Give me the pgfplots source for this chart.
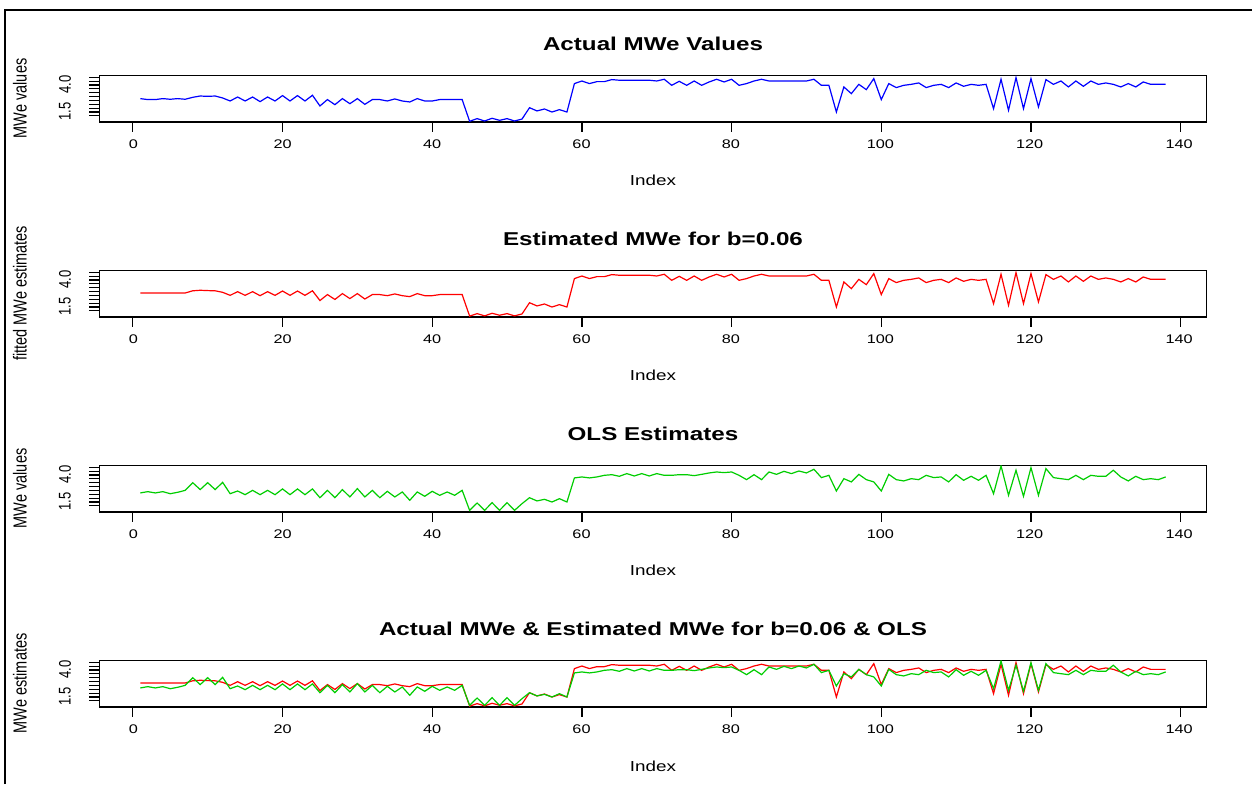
\documentclass[border=0pt]{standalone}
\usepackage{fontspec}
\setmainfont{Liberation Sans}
\usepackage{graphicx}
\usepackage{pgfplots}
\usepackage{pgfplotstable}
\pgfplotsset{compat=1.18}
\definecolor{rblue}{RGB}{0,0,255}
\definecolor{rred}{RGB}{255,0,0}
\definecolor{rgreen}{RGB}{0,205,0}
\newcommand{\hs}[1]{\scalebox{1.3}[1]{#1}}
\newcommand{\vs}[1]{\scalebox{1}[1.3]{#1}}

\pgfplotstableread{
i act est ols
1 2.74 2.80 2.34
2 2.65 2.80 2.46
3 2.65 2.80 2.34
4 2.74 2.80 2.46
5 2.68 2.80 2.27
6 2.74 2.80 2.40
7 2.68 2.80 2.58
8 2.86 3.00 3.29
9 2.98 3.05 2.65
10 2.95 3.02 3.29
11 2.98 3.00 2.65
12 2.80 2.86 3.32
13 2.52 2.58 2.27
14 2.89 2.92 2.52
15 2.52 2.58 2.18
16 2.89 2.92 2.58
17 2.46 2.55 2.18
18 2.89 2.92 2.58
19 2.52 2.58 2.18
20 3.02 2.98 2.71
21 2.52 2.58 2.18
22 3.02 2.98 2.71
23 2.52 2.58 2.18
24 3.05 3.00 2.71
25 2.06 2.10 1.90
26 2.65 2.65 2.58
27 2.18 2.20 1.90
28 2.74 2.74 2.65
29 2.27 2.28 1.97
30 2.74 2.74 2.74
31 2.21 2.24 1.97
32 2.65 2.65 2.58
33 2.65 2.65 1.90
34 2.52 2.55 2.49
35 2.71 2.71 1.97
36 2.52 2.55 2.43
37 2.43 2.46 1.66
38 2.74 2.74 2.43
39 2.52 2.55 2.03
40 2.52 2.55 2.49
41 2.65 2.65 2.12
42 2.65 2.65 2.43
43 2.65 2.65 2.12
44 2.65 2.65 2.58
45 0.64 0.66 0.73
46 0.89 0.89 1.41
47 0.67 0.68 0.73
48 0.92 0.92 1.44
49 0.73 0.74 0.73
50 0.89 0.89 1.44
51 0.67 0.68 0.73
52 0.85 0.86 1.35
53 1.90 1.90 1.90
54 1.60 1.60 1.60
55 1.78 1.78 1.75
56 1.50 1.50 1.50
57 1.72 1.72 1.81
58 1.50 1.50 1.50
59 4.13 4.13 3.73
60 4.37 4.37 3.82
61 4.13 4.13 3.73
62 4.31 4.31 3.82
63 4.31 4.31 3.97
64 4.50 4.50 4.03
65 4.44 4.44 3.88
66 4.44 4.44 4.13
67 4.44 4.44 3.91
68 4.44 4.44 4.13
69 4.44 4.44 3.91
70 4.37 4.37 4.13
71 4.53 4.53 3.97
72 3.97 3.97 3.97
73 4.34 4.34 4.03
74 3.97 3.97 4.03
75 4.37 4.37 3.94
76 3.97 3.97 4.06
77 4.28 4.28 4.19
78 4.53 4.53 4.28
79 4.28 4.28 4.22
80 4.53 4.53 4.28
81 3.97 3.97 3.97
82 4.13 4.13 3.57
83 4.37 4.37 4.03
84 4.53 4.53 3.57
85 4.37 4.37 4.28
86 4.37 4.37 4.06
87 4.37 4.37 4.34
88 4.37 4.37 4.13
89 4.37 4.37 4.37
90 4.37 4.37 4.19
91 4.53 4.53 4.53
92 3.97 3.97 3.76
93 3.97 3.97 3.97
94 1.50 1.50 2.52
95 3.82 3.82 3.66
96 3.20 3.20 3.36
97 4.06 4.06 4.06
98 3.57 3.57 3.57
99 4.59 4.59 3.36
100 2.65 2.65 2.52
101 4.13 4.13 4.06
102 3.76 3.76 3.57
103 3.97 3.97 3.45
104 4.06 4.06 3.66
105 4.19 4.19 3.57
106 3.76 3.76 3.97
107 3.97 3.97 3.76
108 4.06 4.06 3.82
109 3.76 3.76 3.36
110 4.19 4.19 4.03
111 3.88 3.88 3.51
112 4.06 4.06 3.88
113 3.97 3.97 3.51
114 4.06 4.06 3.97
115 1.81 1.81 2.27
116 4.53 4.53 4.84
117 1.66 1.66 2.12
118 4.68 4.68 4.44
119 1.81 1.81 2.03
120 4.59 4.59 4.68
121 1.97 1.97 2.12
122 4.50 4.50 4.59
123 4.06 4.06 3.76
124 4.37 4.37 3.66
125 3.82 3.82 3.57
126 4.37 4.37 3.97
127 3.88 3.88 3.57
128 4.37 4.37 3.97
129 4.06 4.06 3.88
130 4.19 4.19 3.88
131 4.06 4.06 4.44
132 3.82 3.82 3.82
133 4.13 4.13 3.45
134 3.82 3.82 3.88
135 4.28 4.28 3.57
136 4.06 4.06 3.66
137 4.06 4.06 3.57
138 4.06 4.06 3.82
}\mwe

\pgfplotsset{panel/.style={
  scale only axis, width=1107.4pt, height=46.7pt, anchor=south west,
  xmin=-4.48, xmax=143.48, ymin=0.577, ymax=4.898,
  xtick={0,20,...,140}, xticklabels={},
  ytick={1.143,1.5,1.857,2.214,2.571,2.929,3.286,3.643,4.0,4.357,4.714},
  yticklabels={},
  tick align=outside, major tick length=10pt,
  xtick pos=bottom, ytick pos=left,
  axis line style={line width=1.4pt},
  tick style={line width=1.2pt, black},
  every axis plot/.append style={line width=1.2pt},
}}

\begin{document}
\begin{tikzpicture}[x=1pt,y=1pt]
\path[use as bounding box] (0pt,0pt) rectangle (1252pt,784pt);
\draw[line width=2pt] (5pt,0pt) -- (5pt,774pt) -- (1252pt,774pt);

\begin{axis}[panel, at={(99.3pt,662pt)}]
\addplot[rblue] table[x=i,y=act]{\mwe};
\end{axis}
\begin{axis}[panel, at={(99.3pt,467pt)}]
\addplot[rred] table[x=i,y=est]{\mwe};
\end{axis}
\begin{axis}[panel, at={(99.3pt,272pt)}]
\addplot[rgreen] table[x=i,y=ols]{\mwe};
\end{axis}
\begin{axis}[panel, at={(99.3pt,77pt)}]
\addplot[rred] table[x=i,y=est]{\mwe};
\addplot[rgreen] table[x=i,y=ols]{\mwe};
\end{axis}

\foreach \k/\ttl/\yl in {0/{Actual MWe Values}/{MWe values},
  1/{Estimated MWe for b=0.06}/{fitted MWe estimates},
  2/{OLS Estimates}/{MWe values},
  3/{Actual MWe \& Estimated MWe for b=0.06 \& OLS}/{MWe estimates}} {
  \node[anchor=base, inner sep=0pt, font=\fontsize{18.6}{22}\selectfont\bfseries] at (653pt,{(733-195*\k)*1pt}) {\hs{\ttl}};
  \node[anchor=base, inner sep=0pt, font=\fontsize{14.5}{17}\selectfont] at (653pt,{(598-195*\k)*1pt}) {\hs{Index}};
  \node[rotate=90, inner sep=0pt, font=\fontsize{14.5}{17}\selectfont] at (20pt,{(685.6-195*\k)*1pt}) {\vs{\yl}};
  \node[rotate=90, inner sep=0pt, font=\fontsize{13}{15}\selectfont] at (65pt,{(699.3-195*\k)*1pt}) {\vs{4.0}};
  \node[rotate=90, inner sep=0pt, font=\fontsize{13}{15}\selectfont] at (65pt,{(672.3-195*\k)*1pt}) {\vs{1.5}};
  \foreach \t/\xx in {0/133.3,20/282.7,40/432.1,60/581.5,80/730.9,100/880.3,120/1029.7,140/1179.1} {
    \node[anchor=base, inner sep=0pt, font=\fontsize{12.5}{15}\selectfont] at (\xx pt,{(635-195*\k)*1pt}) {\hs{\t}};
  }
}
\end{tikzpicture}
\end{document}
